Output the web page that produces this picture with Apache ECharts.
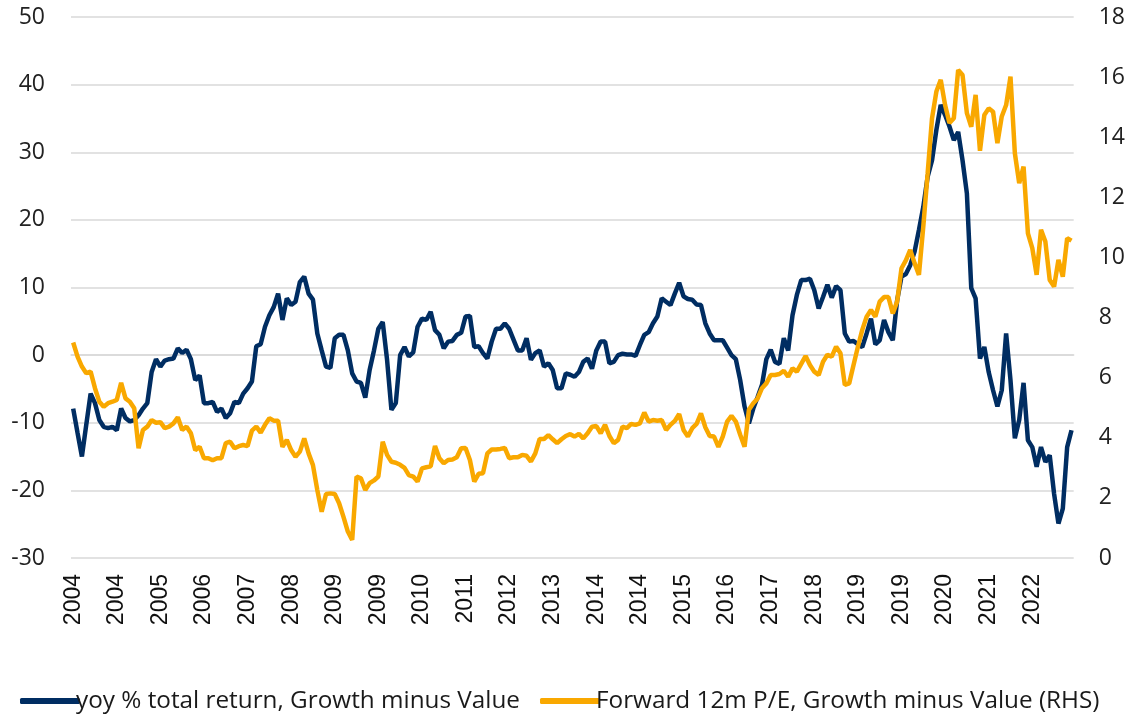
<!DOCTYPE html>
<html>
<head>
<meta charset="utf-8">
<script src="https://cdn.jsdelivr.net/npm/echarts@6/dist/echarts.min.js"></script>
<style>
  html, body { margin: 0; padding: 0; background: #fff; }
  #chart { width: 1128px; height: 714px; }
</style>
</head>
<body>
<div id="chart"></div>
<script>
// monthly points, Jan 2004 onward
var startYear = 2004
var months = []
for (var i = 0; i < 230; i++) {
  var y = startYear + Math.floor(i / 12)
  var m = (i % 12) + 1
  months.push(y + '-' + (m < 10 ? '0' + m : m))
}

// yoy % total return, Growth minus Value (LHS)
var yoyReturn = [
  -7.9, -11.5, -15.0, -10.3, -5.7, -7.1, -9.6, -10.6, -10.8, -10.6,
  -11.1, -7.9, -9.3, -9.8, -9.6, -8.9, -7.9, -7.1, -2.5, -0.6,
  -1.7, -0.8, -0.6, -0.5, 1.0, 0.3, 0.8, -0.6, -3.7, -3.0,
  -7.1, -7.1, -6.9, -8.4, -7.9, -9.3, -8.6, -6.9, -7.1, -5.7,
  -4.9, -3.9, 1.3, 1.6, 4.2, 5.9, 7.1, 9.1, 5.2, 8.4,
  7.4, 7.9, 10.8, 11.6, 9.1, 8.2, 3.2, 0.7, -1.7, -1.9,
  2.5, 3.0, 3.0, 0.7, -2.7, -3.9, -4.1, -6.3, -2.2, 0.7,
  3.9, 4.9, -0.7, -8.1, -7.1, 0.0, 1.2, -0.2, 0.4, 4.2,
  5.4, 5.2, 6.4, 3.7, 3.0, 1.0, 2.0, 2.1, 3.0, 3.3,
  5.7, 5.8, 1.2, 1.3, 0.3, -0.5, 2.0, 3.9, 3.9, 4.7,
  3.9, 2.3, 0.7, 0.7, 2.5, -0.7, 0.3, 0.7, -1.7, -1.2,
  -2.2, -4.9, -4.9, -2.7, -2.9, -3.2, -2.5, -1.0, -0.5, -2.0,
  0.7, 2.0, 2.0, -1.2, -1.0, 0.0, 0.2, 0.1, 0.1, -0.1,
  1.5, 3.0, 3.4, 4.7, 5.7, 8.4, 7.9, 7.4, 9.1, 10.7,
  8.7, 8.3, 8.2, 7.5, 7.4, 4.7, 3.2, 2.2, 2.2, 2.2,
  1.1, 0.0, -0.6, -3.7, -7.6, -10.1, -7.9, -6.2, -4.4, -0.6,
  0.8, -1.0, -1.3, 2.5, 0.7, 5.9, 8.9, 11.1, 11.1, 11.3,
  9.6, 6.9, 8.6, 10.4, 8.5, 10.2, 9.6, 3.2, 2.0, 2.1,
  1.6, 1.2, 3.2, 5.4, 1.6, 2.2, 5.2, 3.4, 2.2, 8.1,
  11.6, 12.0, 13.3, 15.3, 18.5, 21.9, 26.4, 28.8, 33.3, 37.0,
  35.5, 33.8, 31.8, 33.0, 28.8, 23.9, 9.9, 8.4, -0.5, 1.2,
  -2.5, -5.2, -7.6, -5.2, 3.2, -3.7, -12.3, -9.6, -4.1, -12.6,
  -13.6, -16.5, -13.6, -15.8, -14.8, -20.5, -24.9, -22.7, -13.6, -11.1
]

// Forward 12m P/E, Growth minus Value (RHS)
var fwdPE = [
  7.17, 6.70, 6.37, 6.15, 6.20, 5.65, 5.20, 5.03, 5.15, 5.20,
  5.26, 5.83, 5.31, 5.20, 4.98, 3.65, 4.26, 4.37, 4.59, 4.50,
  4.52, 4.32, 4.37, 4.48, 4.68, 4.26, 4.37, 4.15, 3.59, 3.70,
  3.32, 3.32, 3.25, 3.32, 3.32, 3.82, 3.87, 3.65, 3.72, 3.76,
  3.72, 4.24, 4.37, 4.17, 4.43, 4.65, 4.57, 4.57, 3.70, 3.93,
  3.59, 3.37, 3.54, 3.98, 3.48, 3.09, 2.26, 1.54, 2.13, 2.15,
  2.13, 1.82, 1.37, 0.88, 0.60, 2.71, 2.65, 2.26, 2.49, 2.58,
  2.71, 3.87, 3.43, 3.20, 3.17, 3.10, 3.00, 2.76, 2.71, 2.54,
  2.98, 3.02, 3.05, 3.73, 3.32, 3.15, 3.26, 3.28, 3.35, 3.65,
  3.66, 3.26, 2.54, 2.80, 2.82, 3.48, 3.61, 3.61, 3.63, 3.66,
  3.32, 3.35, 3.35, 3.43, 3.40, 3.21, 3.48, 3.96, 3.96, 4.09,
  3.95, 3.82, 3.95, 4.06, 4.12, 4.04, 4.13, 3.98, 4.15, 4.37,
  4.39, 4.15, 4.43, 4.06, 3.82, 3.93, 4.37, 4.32, 4.46, 4.43,
  4.48, 4.84, 4.54, 4.59, 4.57, 4.59, 4.26, 4.43, 4.56, 4.79,
  4.26, 4.04, 4.32, 4.46, 4.81, 4.35, 4.06, 4.04, 3.70, 4.04,
  4.54, 4.73, 4.54, 4.10, 3.70, 4.93, 5.15, 5.31, 5.65, 5.81,
  6.09, 6.09, 6.12, 6.23, 6.03, 6.31, 6.20, 6.46, 6.72, 6.42,
  6.20, 6.09, 6.53, 6.76, 6.70, 7.03, 6.81, 5.76, 5.81, 6.42,
  7.03, 7.59, 8.03, 8.25, 8.03, 8.53, 8.68, 8.68, 8.14, 8.53,
  9.64, 9.90, 10.25, 9.81, 9.42, 11.03, 12.80, 14.63, 15.52, 15.91,
  15.07, 14.47, 14.63, 16.24, 16.07, 14.80, 14.35, 15.41, 13.55, 14.74,
  14.96, 14.85, 13.80, 14.69, 15.07, 16.02, 13.47, 12.47, 13.02, 10.80,
  10.31, 9.42, 10.92, 10.53, 9.25, 9.03, 9.92, 9.36, 10.64, 10.56
]

var chart = echarts.init(document.getElementById('chart'))
var option = {
  animation: false,
  color: ['#002D62', '#F9A800'],
  grid: {
    left: 71,
    right: 45,
    top: 17,
    bottom: 156,
    containLabel: false
  },
  legend: {
    left: 15,
    top: 684,
    icon: 'roundRect',
    itemWidth: 60,
    itemHeight: 6,
    itemGap: 20,
    textStyle: {
      fontFamily: 'Open Sans',
      fontSize: 24.3,
      color: '#1a1a1a',
      padding: [0, 0, 0, -9]
    }
  },
  xAxis: {
    type: 'category',
    data: months,
    boundaryGap: true,
    axisTick: { show: false },
    axisLine: { lineStyle: { color: '#d9d9d9', width: 1.5 } },
    axisLabel: {
      interval: 9,
      rotate: 90,
      margin: 16,
      fontFamily: 'Liberation Sans',
      fontSize: 23,
      color: '#111',
      formatter: function (v) { return v.slice(0, 4) }
    }
  },
  yAxis: [{
    type: 'value',
    min: -30,
    max: 50,
    interval: 10,
    axisLine: { show: false },
    axisTick: { show: false },
    splitLine: { lineStyle: { color: '#d9d9d9', width: 1.5 } },
    axisLabel: {
      margin: 26,
      fontFamily: 'Open Sans',
      fontSize: 23,
      color: '#222'
    }
  }, {
    type: 'value',
    min: 0,
    max: 18,
    interval: 2,
    axisLine: { show: false },
    axisTick: { show: false },
    splitLine: { show: false },
    axisLabel: {
      margin: 25,
      fontFamily: 'Open Sans',
      fontSize: 23,
      color: '#222'
    }
  }],
  series: [{
    name: 'yoy % total return, Growth minus Value',
    type: 'line',
    yAxisIndex: 0,
    data: yoyReturn,
    showSymbol: false,
    lineStyle: { width: 4.5 }
  }, {
    name: 'Forward 12m P/E, Growth minus Value (RHS)',
    type: 'line',
    yAxisIndex: 1,
    data: fwdPE,
    showSymbol: false,
    lineStyle: { width: 4.5 }
  }]
}
chart.setOption(option)
</script>
</body>
</html>
